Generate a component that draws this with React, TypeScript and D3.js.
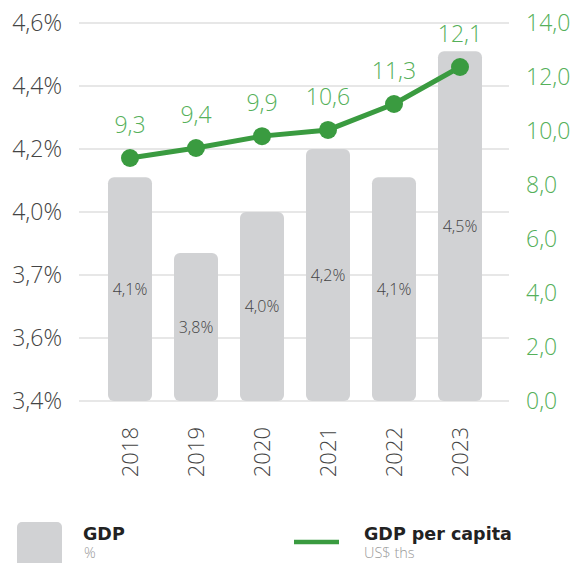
import * as d3 from 'd3';

const years = ['2018', '2019', '2020', '2021', '2022', '2023'];
const gdpGrowth = [4.11, 3.87, 4.0, 4.2, 4.11, 4.51];
const gdpLabels = ['4,1%', '3,8%', '4,0%', '4,2%', '4,1%', '4,5%'];
const perCapita = [9.0, 9.37, 9.81, 10.04, 11.0, 12.37];
const perCapitaLabels = ['9,3', '9,4', '9,9', '10,6', '11,3', '12,1'];
const leftTicks = [3.4, 3.6, 3.8, 4.0, 4.2, 4.4, 4.6];
const leftTickLabels = ['3,4%', '3,6%', '3,7%', '4,0%', '4,2%', '4,4%', '4,6%'];
const rightTicks = [0, 2, 4, 6, 8, 10, 12, 14];

const width = 572;
const height = 563;
const plotLeft = 79;
const plotRight = 509;
const top = 23;
const bottom = 401;
const font = '"Open Sans", sans-serif';
const boldFont = '"DejaVu Sans", sans-serif';
const green = '#3a9b40';
const lightGreen = '#55b05a';
const textGray = '#444';

export default function App() {
  const x = d3
    .scaleBand<string>()
    .domain(years)
    .range([97, 493])
    .paddingInner(1 / 3)
    .paddingOuter(1 / 6);
  const yLeft = d3.scaleLinear([3.4, 4.6], [bottom, top]);
  const yRight = d3.scaleLinear([0, 14], [bottom, top]);
  const cx = (i: number) => (x(years[i]) ?? 0) + x.bandwidth() / 2;
  const line = d3
    .line<number>()
    .x((_, i) => cx(i))
    .y((d) => yRight(d));

  return (
    <svg width={width} height={height} style={{ display: 'block' }}>
      <style>{'body{margin:0}'}</style>
      {leftTicks.map((t, i) => (
        <g key={t}>
          <line
            x1={plotLeft}
            x2={plotRight}
            y1={yLeft(t)}
            y2={yLeft(t)}
            stroke="#cfcfcf"
            strokeWidth={1}
          />
          <text
            x={62}
            y={yLeft(t)}
            dy="0.36em"
            textAnchor="end"
            fontFamily={font}
            fontWeight={300}
            fontSize={23}
            fill={textGray}
          >
            {leftTickLabels[i]}
          </text>
        </g>
      ))}
      {rightTicks.map((t) => (
        <text
          key={t}
          x={526}
          y={yRight(t)}
          dy="0.36em"
          fontFamily={font}
          fontWeight={300}
          fontSize={23}
          fill={lightGreen}
        >
          {d3.format('.1f')(t).replace('.', ',')}
        </text>
      ))}

      {gdpGrowth.map((v, i) => (
        <g key={years[i]}>
          <rect
            x={x(years[i])}
            y={yLeft(v)}
            width={x.bandwidth()}
            height={bottom - yLeft(v)}
            rx={6}
            fill="#d1d2d4"
          />
          <text
            x={cx(i)}
            y={(yLeft(v) + bottom) / 2}
            dy="0.36em"
            textAnchor="middle"
            fontFamily={font}
            fontWeight={300}
            fontSize={16}
            fill={textGray}
          >
            {gdpLabels[i]}
          </text>
          <text
            transform={`translate(${cx(i)},427) rotate(-90)`}
            dy="0.36em"
            textAnchor="end"
            fontFamily={font}
            fontWeight={300}
            fontSize={22}
            fill={textGray}
          >
            {years[i]}
          </text>
        </g>
      ))}

      <path d={line(perCapita) ?? ''} fill="none" stroke={green} strokeWidth={5} />
      {perCapita.map((v, i) => (
        <g key={years[i]}>
          <circle cx={cx(i)} cy={yRight(v)} r={9} fill={green} />
          <text
            x={cx(i)}
            y={yRight(v) - 25}
            textAnchor="middle"
            fontFamily={font}
            fontWeight={300}
            fontSize={23}
            fill={lightGreen}
          >
            {perCapitaLabels[i]}
          </text>
        </g>
      ))}

      {/* legend */}
      <rect x={17} y={522} width={45} height={50} rx={5} fill="#d1d2d4" />
      <text x={83} y={540} fontFamily={boldFont} fontWeight={700} fontSize={17.5} fill="#222">
        GDP
      </text>
      <text x={84} y={558} fontFamily={font} fontWeight={300} fontSize={14.5} fill="#999">
        %
      </text>
      <line x1={294} x2={339} y1={542} y2={542} stroke={green} strokeWidth={4.5} />
      <text x={364} y={540} fontFamily={boldFont} fontWeight={700} fontSize={17.5} fill="#222">
        GDP per capita
      </text>
      <text x={364} y={558} fontFamily={font} fontWeight={300} fontSize={14.5} fill="#999">
        US$ ths
      </text>
    </svg>
  );
}
